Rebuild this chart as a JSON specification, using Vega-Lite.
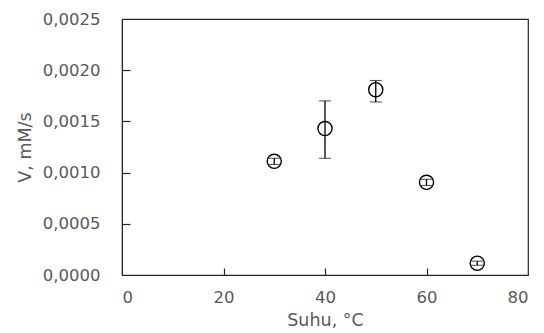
{
  "$schema": "https://vega.github.io/schema/vega-lite/v6.json",
  "autosize": "none",
  "padding": {"left": 122, "top": 19, "right": 16, "bottom": 58},
  "width": 406,
  "height": 256,
  "config": {
    "locale": {"number": {"decimal": ",", "thousands": ".", "grouping": [3], "currency": ["", ""]}},
    "view": {"stroke": "#262626", "strokeWidth": 1.2},
    "axis": {
      "labelFont": "DejaVu Sans", "titleFont": "DejaVu Sans",
      "labelFontSize": 16.5, "titleFontSize": 17.5,
      "labelColor": "#595959", "titleColor": "#595959",
      "titleFontWeight": "normal",
      "grid": false, "domainColor": "#262626", "tickColor": "#262626",
      "tickWidth": 1.2
    }
  },
  "data": {"values": [
    {"t": 30, "v": 0.00111, "lo": 0.00108, "hi": 0.00114},
    {"t": 40, "v": 0.00143, "lo": 0.00114, "hi": 0.00170},
    {"t": 50, "v": 0.00181, "lo": 0.00169, "hi": 0.00190},
    {"t": 60, "v": 0.000905, "lo": 0.000875, "hi": 0.000935},
    {"t": 70, "v": 0.000115, "lo": 0.000095, "hi": 0.000135}
  ]},
  "resolve": {"axis": {"x": "independent", "y": "independent"}},
  "layer": [
    {
      "mark": {"type": "errorbar", "ticks": {"size": 12, "color": "#000", "strokeWidth": 1.3}, "rule": {"color": "#000", "strokeWidth": 1.3}},
      "encoding": {
        "x": {"field": "t", "type": "quantitative",
          "scale": {"domain": [0, 80], "nice": false},
          "axis": {"values": [0, 20, 40, 60, 80], "title": "Suhu, °C", "ticks": false, "labelPadding": 14, "titlePadding": 6}},
        "y": {"field": "lo", "type": "quantitative",
          "scale": {"domain": [0, 0.0025], "nice": false},
          "axis": {"values": [0, 0.0005, 0.001, 0.0015, 0.002, 0.0025], "format": ".4f", "title": "V, mM/s", "ticks": false, "labelPadding": 22, "titlePadding": 8}},
        "y2": {"field": "hi"}
      }
    },
    {
      "mark": {"type": "point", "shape": "circle", "size": 200, "filled": false, "stroke": "#000", "strokeWidth": 1.4, "opacity": 1},
      "encoding": {
        "x": {"field": "t", "type": "quantitative",
          "axis": {"orient": "top", "offset": -256, "values": [20, 40, 60], "labels": false, "domain": false, "title": null, "ticks": true, "tickSize": 7}},
        "y": {"field": "v", "type": "quantitative",
          "axis": {"orient": "right", "offset": -406, "values": [0.0005, 0.001, 0.0015, 0.002], "labels": false, "domain": false, "title": null, "ticks": true, "tickSize": 8}}
      }
    }
  ]
}
